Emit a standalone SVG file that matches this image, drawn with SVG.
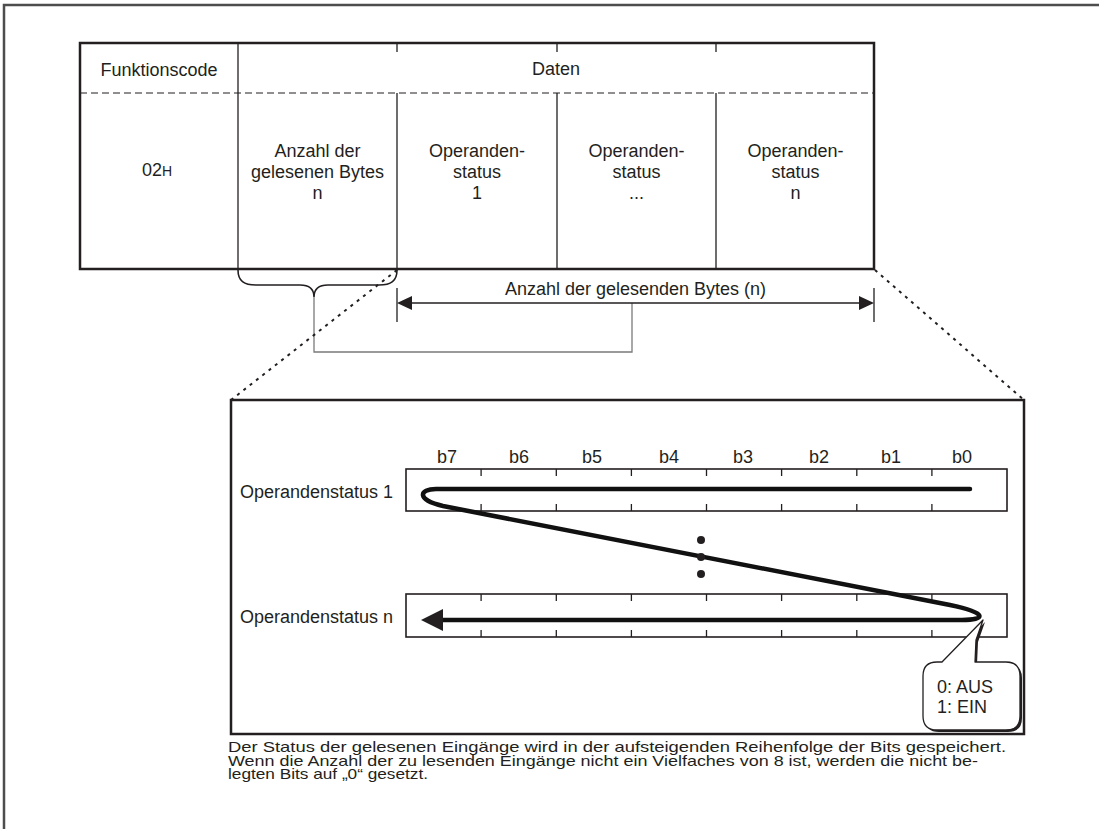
<svg xmlns="http://www.w3.org/2000/svg" width="1099" height="829" viewBox="0 0 1099 829">
  <style>
    text { font-family: "Liberation Sans", Arial, Helvetica, sans-serif; font-size: 18px; fill: #231f20; }
    .mid { text-anchor: middle; }
    .cap { font-size: 14.5px; }
    .frame { fill: none; stroke: #231f20; stroke-width: 2.5; }
    .thin { fill: none; stroke: #231f20; stroke-width: 1.3; }
    .dash { fill: none; stroke: #231f20; stroke-width: 1.2; stroke-dasharray: 7 4; }
    .zoomline { fill: none; stroke: #231f20; stroke-width: 2; stroke-dasharray: 3 5; }
    .gray { fill: none; stroke: #7a7a7a; stroke-width: 1.3; }
    .flow { fill: none; stroke: #111; stroke-width: 4.5; stroke-linecap: round; stroke-linejoin: round; }
    .head { fill: #231f20; stroke: none; }
  </style>

  <!-- page border (top and left edges) -->
  <path d="M4 829 V5 H1099" fill="none" stroke="#4d4d4d" stroke-width="2.5"/>

  <!-- telegram table -->
  <g id="telegram">
    <rect x="80" y="43" width="794" height="226" class="frame"/>
    <line x1="80" y1="93" x2="874" y2="93" class="dash"/>
    <line x1="238" y1="43" x2="238" y2="269" class="thin"/>
    <path d="M397 43 V52 M557 43 V52 M716 43 V52" class="thin"/>
    <path d="M397 93 V269 M557 93 V269 M716 93 V269" class="thin"/>
  </g>

  <g id="hdr-function">
    <text x="159" y="76" class="mid">Funktionscode</text>
  </g>
  <g id="hdr-data">
    <text x="556" y="75" class="mid">Daten</text>
  </g>
  <g id="cell-code">
    <text x="142" y="176">02<tspan font-size="14">H</tspan></text>
  </g>
  <g id="cell-count">
    <text x="317.5" y="157" class="mid">Anzahl der</text>
    <text x="317.5" y="178" class="mid">gelesenen Bytes</text>
    <text x="317.5" y="199" class="mid">n</text>
  </g>
  <g id="cell-status-1">
    <text x="477" y="157" class="mid">Operanden-</text>
    <text x="477" y="178" class="mid">status</text>
    <text x="477" y="199" class="mid">1</text>
  </g>
  <g id="cell-status-dots">
    <text x="636.5" y="157" class="mid">Operanden-</text>
    <text x="636.5" y="178" class="mid">status</text>
    <text x="636.5" y="199" class="mid">...</text>
  </g>
  <g id="cell-status-n">
    <text x="795.5" y="157" class="mid">Operanden-</text>
    <text x="795.5" y="178" class="mid">status</text>
    <text x="795.5" y="199" class="mid">n</text>
  </g>

  <!-- connectors -->
  <g id="connectors">
    <!-- brace under the byte count column -->
    <path d="M238 270 C238 281 244 285 256 285 L300 285 C309 285 314 289 314 297 C314 289 319 285 328 285 L379 285 C391 285 397 281 397 270" fill="none" stroke="#231f20" stroke-width="1.6"/>
    <!-- link from brace to dimension line -->
    <path d="M314 297 V352 H632 V303" class="gray"/>
    <!-- dimension line for the data bytes -->
    <path d="M397 288 V322 M874 288 V322" class="thin"/>
    <line x1="410" y1="303" x2="861" y2="303" class="thin"/>
    <polygon points="397,303 412,296 412,310" class="head"/>
    <polygon points="874,303 859,296 859,310" class="head"/>
    <!-- zoom lines to the detail view -->
    <line x1="397" y1="270" x2="231" y2="400" class="zoomline"/>
    <line x1="875" y1="270" x2="1024" y2="400" class="zoomline"/>
  </g>
  <g id="lbl-byte-count">
    <text x="635.5" y="295" class="mid">Anzahl der gelesenden Bytes (n)</text>
  </g>

  <!-- detail view of the status bytes -->
  <g id="detail">
    <rect x="231" y="400" width="793" height="334" class="frame"/>
  </g>

  <g id="bit-labels">
    <text x="447" y="463" class="mid">b7</text>
    <text x="519" y="463" class="mid">b6</text>
    <text x="592" y="463" class="mid">b5</text>
    <text x="669" y="463" class="mid">b4</text>
    <text x="743" y="463" class="mid">b3</text>
    <text x="819" y="463" class="mid">b2</text>
    <text x="891" y="463" class="mid">b1</text>
    <text x="962" y="463" class="mid">b0</text>
  </g>

  <g id="reg-1">
    <rect x="406" y="469" width="601" height="42" fill="none" stroke="#231f20" stroke-width="1.6"/>
    <path d="M481.1 469 v7 M556.3 469 v7 M631.4 469 v7 M706.5 469 v7 M781.6 469 v7 M856.8 469 v7 M931.9 469 v7 M481.1 511 v-7 M556.3 511 v-7 M631.4 511 v-7 M706.5 511 v-7 M781.6 511 v-7 M856.8 511 v-7 M931.9 511 v-7" class="thin"/>
    <text x="240" y="498">Operandenstatus 1</text>
  </g>

  <g id="reg-n">
    <rect x="406" y="594" width="601" height="43" fill="none" stroke="#231f20" stroke-width="1.6"/>
    <path d="M481.1 594 v7 M556.3 594 v7 M631.4 594 v7 M706.5 594 v7 M781.6 594 v7 M856.8 594 v7 M931.9 594 v7 M481.1 637 v-7 M556.3 637 v-7 M631.4 637 v-7 M706.5 637 v-7 M781.6 637 v-7 M856.8 637 v-7 M931.9 637 v-7" class="thin"/>
    <text x="240" y="623">Operandenstatus n</text>
  </g>

  <!-- bit order path -->
  <g id="bit-order">
    <path d="M970 489 L436 489 C419 489 416 500 443 506 L950 605 C988 613 986 620 962 620 L440 620" class="flow"/>
    <polygon points="421,620 443,609 443,631" class="head"/>
  </g>

  <g id="ellipsis">
    <circle cx="701" cy="540" r="4" class="head"/>
    <circle cx="701" cy="557" r="4" class="head"/>
    <circle cx="701" cy="574" r="4" class="head"/>
  </g>

  <!-- state legend callout -->
  <g id="legend">
    <path d="M939 664 L944 664 L985 622 L978 642 L977 664 L1008 664 Q1022 664 1022 678 L1022 718 Q1022 732 1008 732 L939 732 Q925 732 925 718 L925 678 Q925 664 939 664 Z" fill="#231f20"/>
    <path d="M937 662 L942 662 L983 620 L976 640 L975 662 L1006 662 Q1020 662 1020 676 L1020 716 Q1020 730 1006 730 L937 730 Q923 730 923 716 L923 676 Q923 662 937 662 Z" fill="#fff" stroke="#231f20" stroke-width="1.3" stroke-linejoin="round"/>
    <text x="937" y="693">0: AUS</text>
    <text x="937" y="713">1: EIN</text>
  </g>

  <g id="caption">
    <text x="228" y="752" class="cap" textLength="778" lengthAdjust="spacingAndGlyphs">Der Status der gelesenen Eingänge wird in der aufsteigenden Reihenfolge der Bits gespeichert.</text>
    <text x="228" y="765.5" class="cap" textLength="750" lengthAdjust="spacingAndGlyphs">Wenn die Anzahl der zu lesenden Eingänge nicht ein Vielfaches von 8 ist, werden die nicht be-</text>
    <text x="228" y="779" class="cap" textLength="200" lengthAdjust="spacingAndGlyphs">legten Bits auf „0“ gesetzt.</text>
  </g>
</svg>
